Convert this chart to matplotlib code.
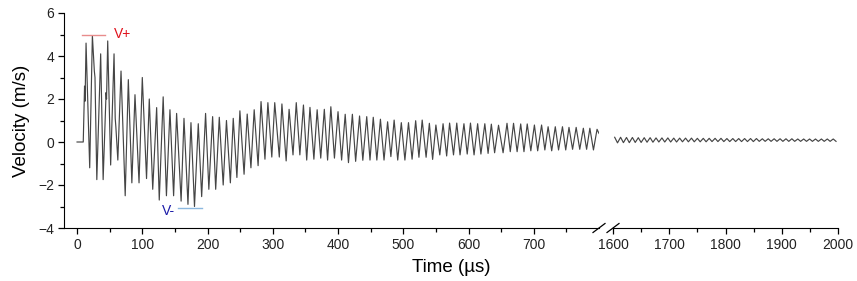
import matplotlib
matplotlib.use("Agg")
import matplotlib.pyplot as plt
from matplotlib.ticker import MultipleLocator, FixedLocator
from matplotlib.lines import Line2D

plt.rcParams['font.family'] = ['Liberation Sans', 'DejaVu Sans']

# ---------------- data ----------------
# left segment: onset, local maxima, local minima, shoulders, end
onset_t = [0.0, 9.5]
onset_v = [0.0, 0.0]

peak_t = [13.8, 23.5, 36.2, 47, 56.7, 67.4, 78.6, 88.8, 100, 110.7,
          122, 132, 142.4, 152.6, 163.9, 174.6, 185.8, 197, 207.8, 218,
          229, 239.4, 249.6, 260.8, 271.5, 282, 292.5, 303, 314, 325,
          336, 347, 357, 368, 379, 389, 400, 411, 422, 433,
          444, 454, 465, 476, 486, 497, 508, 519, 529, 540,
          550, 561, 571, 582, 593, 603, 614, 625, 635, 646,
          659, 669, 680, 690, 701, 712, 722, 733, 744, 754,
          765, 776, 786, 797]
peak_v = [4.6, 4.95, 4.1, 4.7, 4.1, 3.3, 2.9, 2.2, 3.0, 2.0,
          1.6, 2.1, 1.5, 1.33, 1.1, 0.9, 0.85, 1.33, 1.18, 1.15,
          1.0, 1.1, 1.45, 1.3, 1.5, 1.88, 1.83, 1.83, 1.77, 1.52,
          1.83, 1.72, 1.61, 1.5, 1.52, 1.64, 1.41, 1.29, 1.29, 1.21,
          1.18, 1.15, 1.06, 0.94, 1.02, 0.90, 0.90, 0.99, 1.02, 0.87,
          0.79, 0.85, 0.88, 0.88, 0.85, 0.88, 0.85, 0.85, 0.83, 0.78,
          0.87, 0.87, 0.84, 0.84, 0.79, 0.79, 0.71, 0.71, 0.71, 0.68,
          0.68, 0.64, 0.64, 0.59]

trough_t = [19.4, 30.3, 40, 51.5, 62.5, 73.8, 84, 95, 106.5, 116,
            126, 137, 148, 159.5, 170, 180, 191, 202, 212.5, 224,
            235, 245, 256, 266.5, 277.5, 288, 298.5, 310, 320.5, 331,
            341.5, 352, 363, 373.5, 384, 394.5, 405.5, 416, 427, 438,
            449, 459.5, 470.5, 481, 491.5, 502.5, 513.5, 524, 535, 545,
            556, 566.5, 577, 587, 598, 608.5, 619, 630, 640, 653,
            664, 674.5, 685, 695.5, 706, 717, 727.5, 738, 749, 759.5,
            770.5, 781, 791.5]
trough_v = [-1.2, -1.75, -1.75, -1.07, -0.84, -2.5, -1.9, -1.9, -1.7, -2.2,
            -2.7, -2.5, -2.5, -2.75, -2.9, -3.0, -2.54, -2.2, -2.2, -2.0,
            -1.9, -1.65, -1.5, -1.2, -1.1, -0.8, -0.7, -0.7, -0.88, -0.6,
            -0.6, -0.84, -0.8, -0.75, -0.84, -0.75, -0.84, -0.96, -0.9, -0.85,
            -0.84, -0.84, -0.84, -0.68, -0.84, -0.84, -0.8, -0.71, -0.71, -0.81,
            -0.6, -0.65, -0.6, -0.6, -0.56, -0.6, -0.56, -0.53, -0.5, -0.5,
            -0.45, -0.45, -0.45, -0.41, -0.41, -0.37, -0.41, -0.37, -0.37, -0.34,
            -0.34, -0.34, -0.37]

# secondary wiggles visible in the first ~60 us
shoulder_t = [11.5, 12.3, 26.5, 27.5, 44.5, 45.2, 58.5, 59.5]
shoulder_v = [2.6, 1.9, 3.3, 3.0, 2.3, 2.0, 1.1, 0.7]

end_t = [800.0]
end_v = [0.4]

# right segment (1600-2000 us): local maxima and minima
r_peak_t = [1603, 1613.5, 1624, 1634.5, 1645, 1655.5, 1666, 1676.5, 1687, 1697.5,
            1708, 1718.5, 1729, 1739.5, 1750, 1760.5, 1771, 1781.5, 1792, 1802.5,
            1813, 1823.5, 1834, 1844.5, 1855, 1865.5, 1876, 1886.5, 1897, 1907.5,
            1918, 1928.5, 1939, 1949.5, 1960, 1970.5, 1981, 1991.5]
r_peak_v = [0.22, 0.22, 0.21, 0.21, 0.2, 0.2, 0.2, 0.19, 0.19, 0.19,
            0.18, 0.18, 0.18, 0.18, 0.17, 0.17, 0.17, 0.17, 0.17, 0.16,
            0.16, 0.16, 0.16, 0.16, 0.16, 0.15, 0.15, 0.15, 0.15, 0.15,
            0.15, 0.14, 0.14, 0.14, 0.14, 0.14, 0.14, 0.14]
r_trough_t = [1608, 1618.5, 1629, 1639.5, 1650, 1660.5, 1671, 1681.5, 1692, 1702.5,
              1713, 1723.5, 1734, 1744.5, 1755, 1765.5, 1776, 1786.5, 1797, 1807.5,
              1818, 1828.5, 1839, 1849.5, 1860, 1870.5, 1881, 1891.5, 1902, 1912.5,
              1923, 1933.5, 1944, 1954.5, 1965, 1975.5, 1986, 1996.5]
r_trough_v = [-0.04, -0.03, -0.03, -0.02, -0.02, -0.01, -0.01, 0.0, 0.0, 0.0,
              0.0, 0.01, 0.01, 0.01, 0.01, 0.01, 0.02, 0.02, 0.02, 0.02,
              0.02, 0.02, 0.02, 0.02, 0.03, 0.03, 0.03, 0.03, 0.03, 0.03,
              0.03, 0.03, 0.03, 0.03, 0.03, 0.03, 0.03, 0.03]

left_ticks = [0, 100, 200, 300, 400, 500, 600, 700]
right_ticks = [1600, 1700, 1800, 1900, 2000]
y_ticks = [-4, -2, 0, 2, 4, 6]


def merge(*pairs):
    pts = []
    for t, v in pairs:
        pts.extend(zip(t, v))
    pts.sort(key=lambda p: p[0])
    return [p[0] for p in pts], [p[1] for p in pts]


lt, lv = merge((onset_t, onset_v), (peak_t, peak_v), (trough_t, trough_v),
               (shoulder_t, shoulder_v), (end_t, end_v))
rt, rv = merge((r_peak_t, r_peak_v), (r_trough_t, r_trough_v))

# ---------------- figure ----------------
W, H = 857, 281
fig = plt.figure(figsize=(W / 100, H / 100), dpi=100)
bottom = 53 / H
height = 215 / H
axL = fig.add_axes([64 / W, bottom, (599 - 64) / W, height])
axR = fig.add_axes([613 / W, bottom, (838 - 613) / W, height])

line_kw = dict(color='#454545', lw=0.85)
axL.plot(lt, lv, **line_kw)
axR.plot(rt, rv, **line_kw)

for ax in (axL, axR):
    ax.set_ylim(-4, 6)
    ax.spines['top'].set_visible(False)
    ax.spines['right'].set_visible(False)
    ax.tick_params(axis='both', which='major', direction='out', length=4,
                   width=0.9, labelsize=10, pad=3, labelcolor='#222222')
    ax.tick_params(axis='both', which='minor', direction='out', length=3, width=0.9)
    ax.xaxis.set_minor_locator(MultipleLocator(50))
    ax.patch.set_alpha(0)

axL.set_xlim(-20, 800)
axL.xaxis.set_major_locator(FixedLocator(left_ticks))
axL.xaxis.set_minor_locator(FixedLocator([50, 150, 250, 350, 450, 550, 650, 750]))
axL.yaxis.set_major_locator(FixedLocator(y_ticks))
axL.yaxis.set_minor_locator(MultipleLocator(1))
axL.set_ylabel('Velocity (m/s)', fontsize=13.5, labelpad=6)

axR.set_xlim(1600, 2000)
axR.xaxis.set_major_locator(FixedLocator(right_ticks))
axR.spines['left'].set_visible(False)
axR.tick_params(axis='y', which='both', left=False, labelleft=False)

# V+ / V- markers
axL.plot([7, 43], [5.0, 5.0], color='#e88c8c', lw=1.0)
axL.text(57, 5.0, 'V+', color='#e0101a', fontsize=10, va='center', ha='left')
axL.plot([155, 191], [-3.08, -3.08], color='#8cb8e0', lw=1.0)
axL.text(130, -3.2, 'V-', color='#1a1aa8', fontsize=10, va='center', ha='left')

# axis break marks
def slash(xc, yc):
    fig.add_artist(Line2D([(xc - 6) / W, (xc + 6) / W],
                          [1 - (yc + 4.5) / H, 1 - (yc - 4.5) / H],
                          color='black', lw=0.9))

slash(599, 228)
slash(613, 228)

fig.text(451 / W, 1 - 267 / H, 'Time (\u00b5s)', fontsize=13.5, ha='center', va='center')

fig.savefig('out.png', dpi=100)
